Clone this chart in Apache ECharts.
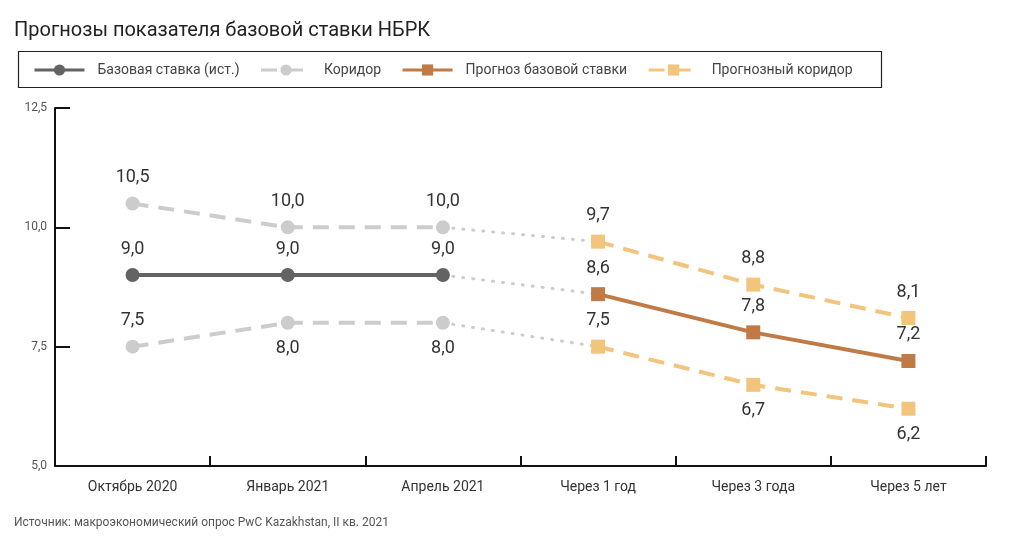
<!DOCTYPE html>
<html><head><meta charset="utf-8">
<script src="https://cdn.jsdelivr.net/npm/echarts@6/dist/echarts.min.js"></script>
<style>html,body{margin:0;padding:0;background:#fff}#c{width:1024px;height:543px}</style>
</head><body><div id="c"></div>
<script>
const categories = ['Октябрь 2020','Январь 2021','Апрель 2021','Через 1 год','Через 3 года','Через 5 лет'];
const baseRate = [9.0, 9.0, 9.0, null, null, null];
const corridorUpper = [10.5, 10.0, 10.0, null, null, null];
const corridorLower = [7.5, 8.0, 8.0, null, null, null];
const forecastRate = [null, null, null, 8.6, 7.8, 7.2];
const forecastUpper = [null, null, null, 9.7, 8.8, 8.1];
const forecastLower = [null, null, null, 7.5, 6.7, 6.2];
const linkBase = [null, null, 9.0, 8.6, null, null];
const linkUpper = [null, null, 10.0, 9.7, null, null];
const linkLower = [null, null, 8.0, 7.5, null, null];
const yTicks = {min: 5, max: 12.5, interval: 2.5};

const FONT = 'Roboto';
const fmt = v => v.toFixed(1).replace('.', ',');
const lbl = (pos) => ({show: true, position: pos, distance: 10, fontFamily: FONT, fontSize: 18, color: '#333',
  formatter: p => p.value == null ? '' : fmt(p.value)});
const perPointLabels = (arr, positions) => arr.map((v, i) => v == null ? null : {value: v, label: {position: positions[i]}});

const C_BASE = '#636363', C_COR = '#cccccc', C_FC = '#c07a45', C_FCOR = '#f2c47c';

const chart = echarts.init(document.getElementById('c'));
chart.setOption({
  animation: false,
  title: {text: 'Прогнозы показателя базовой ставки НБРК', left: 9, top: 16,
    textStyle: {fontFamily: FONT, fontSize: 20, fontWeight: 'normal', color: '#222'}},
  graphic: [
    {type: 'rect', left: 16, top: 49, shape: {width: 863, height: 36}, style: {fill: 'none', stroke: '#222', lineWidth: 1.2}},
    {type: 'text', left: 14, top: 517, style: {text: 'Источник: макроэкономический опрос PwC Kazakhstan, II кв. 2021', fontFamily: FONT, fontSize: 12, fill: '#555'}}
  ],
  legend: {left: 28, top: 58, itemWidth: 50, itemHeight: 14, itemGap: 20,
    data: ['Базовая ставка (ист.)', 'Коридор', 'Прогноз базовой ставки', 'Прогнозный коридор'],
    lineStyle: {width: 3},
    textStyle: {fontFamily: FONT, fontSize: 14, color: '#444', padding: [0, 0, 0, 8]}},
  grid: {left: 55, right: 38, top: 108, bottom: 77},
  xAxis: {type: 'category', data: categories, boundaryGap: true,
    axisLine: {show: true, lineStyle: {color: '#111', width: 2}},
    axisTick: {show: true, inside: true, length: 10, interval: 0, lineStyle: {color: '#111', width: 2}},
    axisLabel: {fontFamily: FONT, fontSize: 14, color: '#333', margin: 14}},
  yAxis: [{type: 'value', min: yTicks.min, max: yTicks.max, interval: yTicks.interval,
    axisLine: {show: true, lineStyle: {color: '#111', width: 2}},
    axisTick: {show: false},
    splitLine: {show: false},
    axisLabel: {fontFamily: FONT, fontSize: 12, color: '#555', margin: 8, formatter: v => fmt(v)}},
   {type: 'value', position: 'left', min: yTicks.min, max: yTicks.max, interval: yTicks.interval,
    axisLine: {show: false}, axisLabel: {show: false}, splitLine: {show: false},
    axisTick: {show: true, inside: true, length: 15, lineStyle: {color: '#111', width: 2}}}],
  series: [
    {name: 'link1', type: 'line', data: linkUpper, symbol: 'none', lineStyle: {color: C_COR, width: 3, type: [1, 9], cap: 'round'}, z: 1, silent: true},
    {name: 'link2', type: 'line', data: linkBase, symbol: 'none', lineStyle: {color: C_COR, width: 3, type: [1, 9], cap: 'round'}, z: 1, silent: true},
    {name: 'link3', type: 'line', data: linkLower, symbol: 'none', lineStyle: {color: C_COR, width: 3, type: [1, 9], cap: 'round'}, z: 1, silent: true},
    {name: 'Базовая ставка (ист.)', type: 'line', data: baseRate, symbol: 'circle', symbolSize: 14,
      itemStyle: {color: C_BASE}, lineStyle: {color: C_BASE, width: 4}, label: lbl('top'), z: 5},
    {name: 'Коридор', type: 'line', data: corridorUpper, symbol: 'circle', symbolSize: 14,
      itemStyle: {color: C_COR}, lineStyle: {color: C_COR, width: 4, type: [16, 10]}, label: lbl('top'), z: 4},
    {name: 'Коридор', type: 'line', data: perPointLabels(corridorLower, ['top', 'bottom', 'bottom', 'bottom', 'bottom', 'bottom']), symbol: 'circle', symbolSize: 14,
      itemStyle: {color: C_COR}, lineStyle: {color: C_COR, width: 4, type: [16, 10]}, label: lbl('bottom'), z: 4},
    {name: 'Прогноз базовой ставки', type: 'line', data: forecastRate, symbol: 'rect', symbolSize: 14,
      itemStyle: {color: C_FC}, lineStyle: {color: C_FC, width: 4}, label: lbl('top'), z: 5},
    {name: 'Прогнозный коридор', type: 'line', data: forecastUpper, symbol: 'rect', symbolSize: 14,
      itemStyle: {color: C_FCOR}, lineStyle: {color: C_FCOR, width: 4, type: [16, 10]}, label: lbl('top'), z: 4},
    {name: 'Прогнозный коридор', type: 'line', data: perPointLabels(forecastLower, ['bottom', 'bottom', 'bottom', 'top', 'bottom', 'bottom']), symbol: 'rect', symbolSize: 14,
      itemStyle: {color: C_FCOR}, lineStyle: {color: C_FCOR, width: 4, type: [16, 10]}, label: lbl('bottom'), z: 4}
  ]
});
</script></body></html>
